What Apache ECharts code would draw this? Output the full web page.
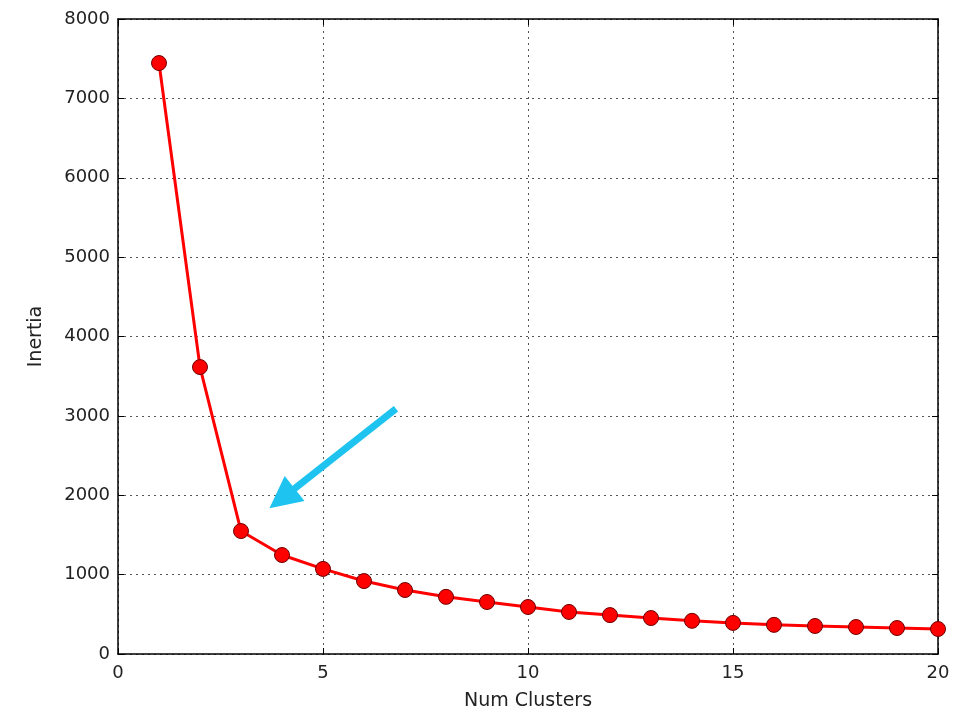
<!DOCTYPE html>
<html><head><meta charset="utf-8">
<script src="https://cdn.jsdelivr.net/npm/echarts@6/dist/echarts.min.js"></script>
<style>html,body{margin:0;padding:0;background:#fff}#c{width:955px;height:717px}</style>
</head><body><div id="c"></div>
<script>
const clusters = [1,2,3,4,5,6,7,8,9,10,11,12,13,14,15,16,17,18,19,20];
const inertia = [7445,3615,1549,1247,1072,919,806,720,655,592,530,490,453,418,392,367,353,340,327,315];
const arrowStart = [6.78, 3090];
const arrowEnd = [4.0, 1960];
const font = 'DejaVu Sans';
const chart = echarts.init(document.getElementById('c'));
const axisCommon = {
  axisLine:{show:true,onZero:false,lineStyle:{color:'#000',width:1.5}},
  axisTick:{show:true,inside:true,length:6,lineStyle:{color:'#000',width:1}},
};
const plain = v => String(v);
chart.setOption({
  animation:false,
  grid:{left:118,right:17,top:19,bottom:63},
  xAxis:[{
    type:'value',min:0,max:20,interval:5,position:'bottom',
    ...axisCommon,
    axisLabel:{color:'#222',fontFamily:font,fontSize:18,margin:10,formatter:plain},
    splitLine:{show:true,lineStyle:{color:'#555',type:[2,4],width:1}},
    name:'Num Clusters',nameLocation:'middle',nameGap:38,
    nameTextStyle:{color:'#222',fontFamily:font,fontSize:19}
  },{
    type:'value',min:0,max:20,interval:5,position:'top',
    ...axisCommon,axisLabel:{show:false},splitLine:{show:false}
  }],
  yAxis:[{
    type:'value',min:0,max:8000,interval:1000,position:'left',
    ...axisCommon,
    axisLabel:{color:'#222',fontFamily:font,fontSize:18,margin:8,formatter:plain},
    splitLine:{show:true,lineStyle:{color:'#555',type:[2,4],width:1}},
    name:'Inertia',nameLocation:'middle',nameGap:72,
    nameTextStyle:{color:'#222',fontFamily:font,fontSize:19}
  },{
    type:'value',min:0,max:8000,interval:1000,position:'right',
    ...axisCommon,axisLabel:{show:false},splitLine:{show:false}
  }],
  series:[{
    type:'line',
    data:clusters.map((c,i)=>[c,inertia[i]]),
    symbol:'circle',symbolSize:15,
    lineStyle:{color:'#ff0000',width:3},
    itemStyle:{color:'#ff0000',borderColor:'#6b0000',borderWidth:1},
    z:5,
    markLine:{
      silent:true,
      symbol:['none','triangle'],symbolSize:32,
      label:{show:false},
      lineStyle:{color:'#1ec3f0',width:7,type:'solid'},
      itemStyle:{color:'#1ec3f0'},
      data:[[{coord:arrowStart},{coord:arrowEnd}]]
    }
  }]
});
</script></body></html>
